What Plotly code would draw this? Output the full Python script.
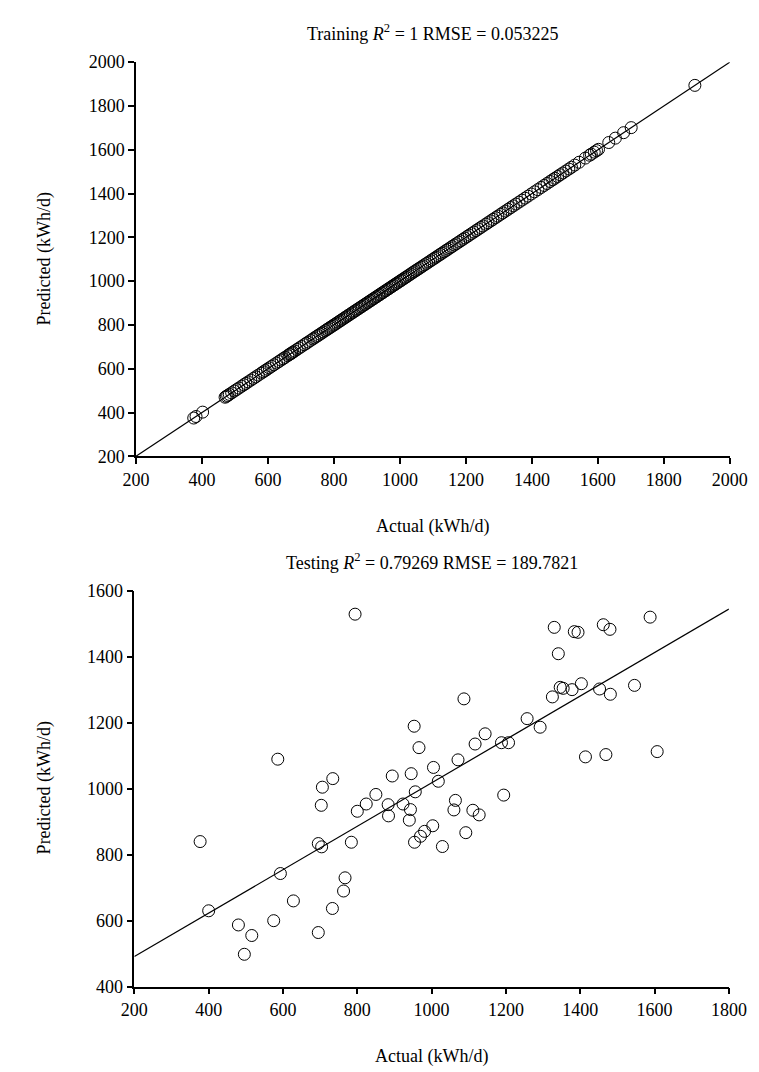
import plotly.graph_objects as go
import numpy as np

# ---------------- Training data (predicted == actual, R^2 = 1) ----------------
train_actual = [375, 382, 402, 470, 474, 478, 483, 490, 498, 505, 512, 520, 527, 533, 540, 548,
                556, 563, 571, 580, 586, 592, 598, 604, 611, 618, 626, 633, 640, 646, 652, 660,
                665, 668, 672, 676, 681, 688, 695, 702, 710, 716, 722, 729, 736, 741, 747, 752,
                758, 763, 768, 774, 779, 784, 789, 794, 799, 803, 808, 813, 818, 822, 827, 832,
                836, 841, 845, 850, 855, 859, 864, 868, 873, 877, 882, 886, 891, 895, 900, 904,
                909, 913, 918, 922, 927, 931, 936, 940, 945, 949, 954, 958, 963, 967, 972, 977,
                981, 986, 990, 995, 1000, 1004, 1009, 1014, 1018, 1023, 1028, 1033, 1038, 1043,
                1048, 1053, 1058, 1064, 1069, 1075, 1081, 1087, 1093, 1099, 1105, 1110, 1116,
                1122, 1128, 1134, 1140, 1146, 1152, 1158, 1165, 1171, 1178, 1184, 1191, 1197,
                1204, 1210, 1217, 1224, 1231, 1238, 1245, 1252, 1260, 1267, 1275, 1282, 1290,
                1297, 1305, 1312, 1320, 1328, 1336, 1344, 1352, 1361, 1370, 1379, 1388, 1398,
                1408, 1418, 1428, 1437, 1446, 1455, 1463, 1470, 1478, 1486, 1494, 1503, 1512,
                1520, 1530, 1543, 1562, 1575, 1580, 1589, 1596, 1602, 1633, 1653, 1678, 1701, 1894]
train_predicted = [375, 382, 402, 470, 474, 478, 483, 490, 498, 505, 512, 520, 527, 533, 540, 548,
                   556, 563, 571, 580, 586, 592, 598, 604, 611, 618, 626, 633, 640, 646, 652, 660,
                   665, 668, 672, 676, 681, 688, 695, 702, 710, 716, 722, 729, 736, 741, 747, 752,
                   758, 763, 768, 774, 779, 784, 789, 794, 799, 803, 808, 813, 818, 822, 827, 832,
                   836, 841, 845, 850, 855, 859, 864, 868, 873, 877, 882, 886, 891, 895, 900, 904,
                   909, 913, 918, 922, 927, 931, 936, 940, 945, 949, 954, 958, 963, 967, 972, 977,
                   981, 986, 990, 995, 1000, 1004, 1009, 1014, 1018, 1023, 1028, 1033, 1038, 1043,
                   1048, 1053, 1058, 1064, 1069, 1075, 1081, 1087, 1093, 1099, 1105, 1110, 1116,
                   1122, 1128, 1134, 1140, 1146, 1152, 1158, 1165, 1171, 1178, 1184, 1191, 1197,
                   1204, 1210, 1217, 1224, 1231, 1238, 1245, 1252, 1260, 1267, 1275, 1282, 1290,
                   1297, 1305, 1312, 1320, 1328, 1336, 1344, 1352, 1361, 1370, 1379, 1388, 1398,
                   1408, 1418, 1428, 1437, 1446, 1455, 1463, 1470, 1478, 1486, 1494, 1503, 1512,
                   1520, 1530, 1543, 1562, 1575, 1580, 1589, 1596, 1602, 1633, 1653, 1678, 1701, 1894]
train_line_x = [200, 2000]
train_line_y = [200, 2000]

# ---------------- Testing data ----------------
test_actual = [377, 400, 480, 516, 496, 575, 593, 628, 695, 695, 704, 703, 706, 733, 767, 763,
               784, 800, 824, 850, 883, 884, 923, 943, 940, 956, 954, 970, 981, 1003, 734, 794,
               586, 953, 966, 945, 894, 1005, 1588, 1330, 1384, 1394, 1462, 1480, 1341, 1346,
               1354, 1378, 1403, 1325, 1452, 1481, 1546, 1087, 1257, 1292, 1144, 1117, 1188,
               1207, 1071, 1018, 1414, 1469, 1607, 1064, 1194, 1060, 1111, 1128, 1092, 1029]
test_predicted = [840, 630, 587, 555, 498, 600, 743, 660, 564, 834, 824, 950, 1005, 637, 730, 690,
                  838, 932, 954, 983, 952, 918, 954, 937, 905, 991, 838, 856, 871, 888, 1031, 1530,
                  1090, 1190, 1125, 1046, 1039, 1065, 1521, 1490, 1477, 1475, 1498, 1484, 1410, 1308,
                  1305, 1301, 1319, 1279, 1303, 1287, 1314, 1273, 1213, 1187, 1167, 1136, 1140,
                  1140, 1088, 1023, 1097, 1104, 1113, 965, 981, 936, 935, 921, 867, 825]
fit_slope = 0.659
fit_intercept = 359.2
test_line_x = [200, 1800]

FONT = "Liberation Serif, Times New Roman, serif"
FS = 18
W, H = 759, 1072

fig = go.Figure()

marker = dict(symbol="circle-open", size=12, color="black", line=dict(width=1, color="black"))

fig.add_trace(go.Scatter(x=train_actual, y=train_predicted, mode="markers", marker=marker,
                         xaxis="x", yaxis="y", showlegend=False))
fig.add_trace(go.Scatter(x=train_line_x, y=train_line_y, mode="lines",
                         line=dict(color="black", width=1.2), xaxis="x", yaxis="y", showlegend=False))

fig.add_trace(go.Scatter(x=test_actual, y=test_predicted, mode="markers", marker=marker,
                         xaxis="x2", yaxis="y2", showlegend=False))
test_line_y = [fit_slope * v + fit_intercept for v in test_line_x]
fig.add_trace(go.Scatter(x=test_line_x, y=test_line_y, mode="lines",
                         line=dict(color="black", width=1.2), xaxis="x2", yaxis="y2", showlegend=False))

axis_common = dict(showgrid=False, zeroline=False, showline=True, linecolor="black", linewidth=1.5,
                   ticks="outside", ticklen=6, tickwidth=1.5, tickcolor="black",
                   tickfont=dict(family=FONT, size=FS, color="black"))

def px_x(p):
    return p / W

def px_y(p):
    return 1 - p / H

fig.update_layout(
    width=W, height=H,
    margin=dict(l=0, r=0, t=0, b=0),
    paper_bgcolor="white", plot_bgcolor="white",
    xaxis=dict(domain=[px_x(119), px_x(739)], range=[200, 2000], tickvals=list(range(200, 2001, 200)),
               anchor="y", **axis_common),
    yaxis=dict(domain=[px_y(446.7), px_y(45)], range=[200, 2000], tickvals=list(range(200, 2001, 200)),
               anchor="x", **axis_common),
    xaxis2=dict(domain=[px_x(117.3), px_x(738)], range=[200, 1800], tickvals=list(range(200, 1801, 200)),
                anchor="y2", **axis_common),
    yaxis2=dict(domain=[px_y(987), px_y(584)], range=[400, 1600], tickvals=list(range(400, 1601, 200)),
                anchor="x2", **axis_common),
)

def ann(text, xp, yp, angle=0):
    fig.add_annotation(text=text, x=px_x(xp), y=px_y(yp), xref="paper", yref="paper",
                       showarrow=False, textangle=angle, xanchor="center", yanchor="middle",
                       font=dict(family=FONT, size=FS, color="black"))

ann("Training <i>R</i><sup>2</sup> = 1 RMSE = 0.053225", 429, 15)
ann("Actual (kWh/d)", 429, 518)
ann("Predicted (kWh/d)", 23, 246, angle=-90)
ann("Testing <i>R</i><sup>2</sup> = 0.79269 RMSE = 189.7821", 428, 554)
ann("Actual (kWh/d)", 428, 1058)
ann("Predicted (kWh/d)", 23, 785, angle=-90)

fig.write_html("out.html")
